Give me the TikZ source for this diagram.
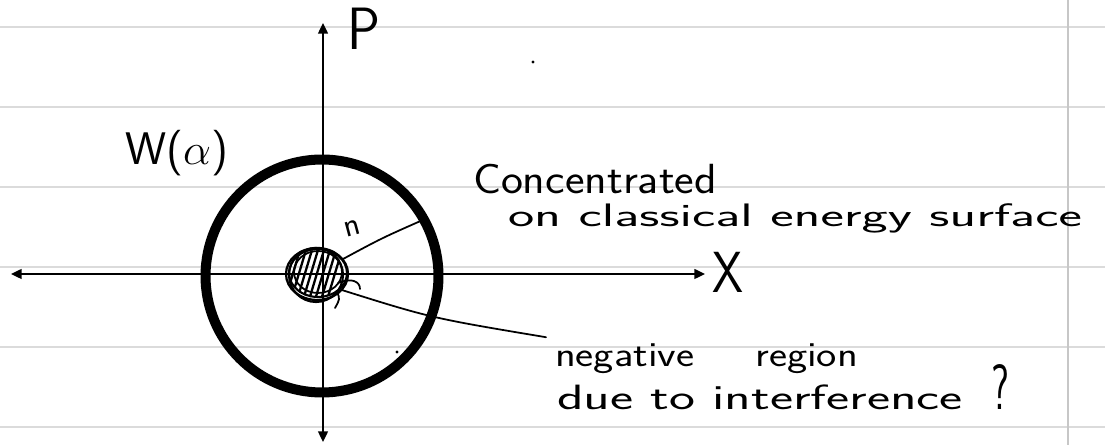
\documentclass[tikz,border=0pt]{standalone}
\usepackage{graphicx}
\usetikzlibrary{arrows.meta,shapes.geometric}
\newdimen\pxu \pxu=0.56906pt
\newcommand\fw[2]{\resizebox{#1\pxu}{\height}{#2}}
\newcommand\gp[1]{\hspace*{#1\pxu}}
\begin{document}
\begin{tikzpicture}[x=0.02cm,y=-0.02cm,
  ruling/.style={draw=black!14,line width=1.5pt},
  margin/.style={draw=black!22,line width=0.7pt},
  axis/.style={line width=1.15pt,{Triangle[length=6pt,width=5.5pt]}-{Triangle[length=6pt,width=5.5pt]}},
  ink/.style={line width=1pt,line cap=round,line join=round},
  txt/.style={inner sep=0pt,outer sep=0pt,anchor=base west},
  fsz/.style={font=\sffamily\fontsize{#1}{#1}\selectfont}]
\fill[white] (0,0) rectangle (1105,445);
\useasboundingbox (0,0) rectangle (1105,445);
% lined paper
\foreach \yy in {27,107,187,267,347,427} \draw[ruling] (0,\yy) -- (1105,\yy);
\draw[margin] (1068,0) -- (1068,445);
% axes
\coordinate (ytop) at (323,23);
\coordinate (ybot) at (323,442);
\coordinate (xl) at (11,274);
\coordinate (xr) at (705,274);
\draw[axis] (ybot) -- (ytop);
\draw[axis] (xl) -- (xr);
% small negative blob
\node[draw,ellipse,minimum width=1.24cm,minimum height=1.04cm,inner sep=0pt,outer sep=0pt,line width=1.3pt] (blob) at (317,274) {};
\draw[ink,line width=1.2pt] (318,273) ellipse [x radius=29, y radius=24];
\draw[ink,line width=1.2pt] (316,275) ellipse [x radius=27, y radius=27];
\draw[ink] (318,272) ellipse [x radius=24, y radius=21];
\begin{scope}
\clip (317,274) ellipse [x radius=28, y radius=24];
\foreach \hx in {286,292,298,304,310,316,322,328,334} \draw[ink,line width=1.3pt] (\hx-7,300) -- (\hx+8,250);
\end{scope}
\draw[ink] (338,283) .. controls (352,277) and (360,282) .. (360,289);
\draw[ink] (337,292) .. controls (340,299) .. (335,308);
% text
\node[txt,fsz=34pt] (P) at (347,50) {\fw{33}{P}};
\node[txt,fsz=26pt] (W) at (125,165) {\fw{103}{W($\alpha$)}};
\node[txt,fsz=24pt] (conc) at (473,194) {\fw{244}{Concentrated}};
\node[txt,fsz=18.5pt] (surf) at (508,227) {\fw{574}{on classical energy surface}};
\node[txt,fsz=33pt] (X) at (712,293) {\fw{31}{X}};
\node[txt,fsz=19pt,rotate=15] (n) at (346,238) {n};
\node[txt,fsz=20pt] (neg) at (555,367) {\fw{303}{negative\gp{50}region}};
\node[txt,fsz=20pt] (due) at (557,410) {\fw{406}{due to interference}\gp{29}\resizebox{18\pxu}{45\pxu}{?}};
% ring
\node[draw,circle,minimum size=4.66cm,inner sep=0pt,outer sep=0pt,line width=5.7pt] (ring) at (322,276) {};
% connectors
\draw[ink] (blob.30) .. controls (382,238) .. (ring.29);
\draw[ink] (blob.-33) .. controls (431,318) .. ([shift={(-9,-7)}]neg.north west);
% stray dots
\fill (533,62) circle [radius=1.6];
\fill (397,352) circle [radius=1.6];
\end{tikzpicture}
\end{document}
